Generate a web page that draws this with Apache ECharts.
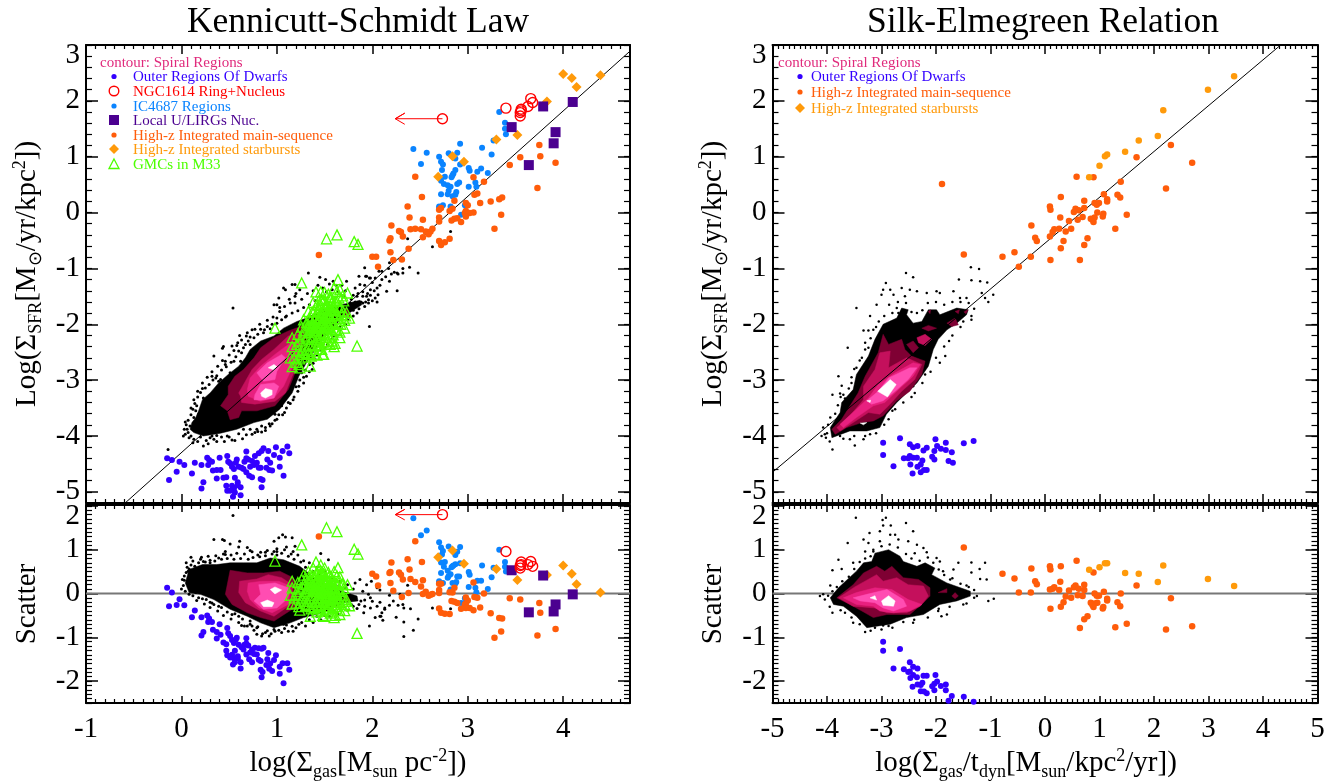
<!DOCTYPE html>
<html>
<head>
<meta charset="utf-8">
<title>Kennicutt-Schmidt Law and Silk-Elmegreen Relation</title>
<script src="https://cdn.jsdelivr.net/npm/echarts@6/dist/echarts.min.js"></script>
<style>
  html, body { margin: 0; padding: 0; background: #fff; }
  #chart { width: 1343px; height: 782px; }
</style>
</head>
<body>
<div id="chart"></div>
<script>
// ---- left panels: log(gas) against log(SFR), plus the scatter about the fit ----
const fitKsX = [-0.59, 4.7]
const fitKsY = [-5.2, 2.89]
const fitSeX = [-5, 4.3]
const fitSeY = [-4.65, 2.98]
const zeroKsX = [-1, 4.7]
const zeroSeX = [-5, 5]
const zeroY = [0, 0]
const yTicksTop = [-5, -4, -3, -2, -1, 0, 1, 2, 3]
const yTicksLow = [-2, -1, 0, 1, 2]

const dwarfX = [-.15,-.10,-.02,.03,-.05,-.13,.11,.14,.21,.23,
  .21,.27,.29,.32,.28,.33,.37,.41,.40,.37,
  .44,.47,.48,.49,.51,.53,.58,.57,.55,.60,
  .63,.68,.68,.70,.74,.77,.81,.84,.86,.91,
  .99,1.06,1.11,1.13,.97,1.03,.90,.93,.79,.76,
  .81,.89,.92,.95,1.03,1.07,.68,.71,.74,.83,
  .85,.84,.56,.47,.48,.53,.55,.59,.62,.56,
  .62,.54,.51,.59,.83,.65,.66,.72]
const dwarfY = [-4.40,-4.43,-4.46,-4.52,-4.64,-4.79,-4.67,-4.48,-4.52,-4.83,
  -4.94,-4.39,-4.43,-4.46,-4.52,-4.62,-4.61,-4.61,-4.39,-4.76,
  -4.75,-4.74,-4.36,-4.46,-4.49,-4.55,-4.42,-4.48,-4.59,-4.55,
  -4.57,-4.28,-4.40,-4.42,-4.45,-4.36,-4.31,-4.27,-4.22,-4.27,
  -4.20,-4.27,-4.19,-4.31,-4.34,-4.39,-4.42,-4.48,-4.48,-4.52,
  -4.57,-4.57,-4.61,-4.62,-4.55,-4.71,-4.65,-4.71,-4.74,-4.77,
  -4.79,-4.92,-4.75,-4.89,-4.98,-4.89,-4.94,-4.88,-4.92,-5.01,
  -5.06,-5.09,-4.98,-4.83,-4.57,-4.59,-4.46,-4.55]
const dwarfScatter = [.13,.02,-.13,-.27,-.26,-.29,-.54,-.39,-.54,-.88,
  -.96,-.50,-.57,-.65,-.65,-.83,-.88,-.94,-.70,-1.03,
  -1.12,-1.16,-.79,-.91,-.97,-1.06,-1.01,-1.05,-1.13,-1.17,
  -1.23,-1.02,-1.14,-1.19,-1.28,-1.24,-1.25,-1.26,-1.24,-1.36,
  -1.41,-1.59,-1.59,-1.74,-1.52,-1.67,-1.50,-1.60,-1.39,-1.38,
  -1.51,-1.63,-1.72,-1.77,-1.83,-2.05,-1.39,-1.50,-1.57,-1.74,
  -1.79,-1.91,-1.31,-1.31,-1.41,-1.40,-1.48,-1.48,-1.57,-1.57,
  -1.71,-1.62,-1.46,-1.43,-1.54,-1.28,-1.17,-1.35]

const ngcX = [3.40,3.56,3.56,3.55,3.63,3.66,3.68,3.55]
const ngcY = [1.87,1.85,1.82,1.73,1.90,2.04,1.97,1.79]
const ngcScatter = [.96,.72,.66,.58,.66,.73,.62,.64]
const ngcLimitX = [2.735]
const ngcLimitY = [1.68]
const ngcLimitScatter = [1.80]
const arrowTopPath = [[2.735,1.68],[2.24,1.68],[2.34,1.78],[2.24,1.68],[2.34,1.58]]
const arrowLowPath = [[2.735,1.80],[2.24,1.80],[2.34,1.92],[2.24,1.80],[2.34,1.68]]

const icX = [3.33,3.39,3.39,3.40,3.27,2.92,2.43,2.57,3.15,3.25,
  2.80,2.89,2.70,2.87,2.72,2.74,2.51,2.92,3.01,3.02,
  3.14,3.10,3.21,2.87,2.85,2.84,2.73,2.76,2.83,3.08,
  3.09,3.01,2.72,2.75,2.79,2.82,2.89,2.91,2.72,2.80,
  2.88,2.79,2.84,2.87,2.70,2.74,2.82,2.97,2.93,2.70]
const icY = [1.80,1.61,1.50,1.40,1.29,1.23,1.14,1.07,1.16,1.04,
  1.06,1.07,1.00,.97,.91,.86,.87,.86,.80,.75,
  .79,.73,.71,.76,.70,.67,.76,.64,.63,.54,
  .46,.46,.57,.51,.49,.46,.51,.54,.33,.39,
  .37,.33,.29,.32,.11,.13,.11,.13,-.04,.08]
const icScatter = [1.0,.72,.61,.50,.59,1.06,1.72,1.44,.64,.37,
  1.07,.95,1.17,.88,1.05,.97,1.33,.69,.49,.43,
  .29,.29,.10,.67,.64,.62,.89,.72,.60,.13,
  .03,.15,.71,.61,.52,.44,.39,.39,.47,.40,
  .26,.36,.24,.23,.28,.24,.09,-.11,-.22,.25]

const lirgX = [3.46,3.79,4.10,3.92,3.90,3.64]
const lirgY = [1.53,1.90,1.98,1.44,1.24,.85]
const lirgScatter = [.53,.41,-.02,-.25,-.41,-.43]

const msX = [3.75,3.76,3.55,3.44,3.92,3.73,2.45,3.06,3.17,2.52,
  3.07,3.10,3.36,3.33,3.24,3.13,2.86,2.37,2.98,3.00,
  2.72,2.70,2.84,2.81,2.98,2.97,3.06,3.35,3.02,2.39,
  2.70,2.98,2.53,2.89,2.86,2.83,2.70,2.93,2.20,3.28,
  2.40,2.45,2.51,2.63,2.56,2.61,2.28,2.30,2.32,2.59,
  2.53,2.19,2.18,2.70,2.81,2.76,2.72,2.38,2.19,2.00,
  2.04,2.31,2.22,2.06,1.44]
const msY = [1.21,1.01,.99,.85,.89,.44,.64,.63,.55,.28,
  .32,.34,.27,.24,.20,.17,.21,.11,.17,.13,
  .08,.05,.07,.03,.03,-.01,0,-.04,-.01,-.09,
  -.09,-.07,-.13,-.10,-.11,-.14,-.16,-.17,-.23,-.29,
  -.30,-.29,-.30,-.29,-.34,-.34,-.33,-.35,-.43,-.39,
  -.44,-.46,-.50,-.51,-.47,-.53,-.58,-.65,-.71,-.79,
  -.79,-.84,-.85,-.97,-.76]
const msScatter = [-.22,-.44,-.14,-.11,-.81,-.96,1.19,.25,0,.72,
  -.08,-.10,-.57,-.56,-.45,-.32,.13,.78,-.09,-.16,
  .22,.22,.02,.03,-.23,-.25,-.38,-.87,-.33,.55,
  .08,-.33,.30,-.22,-.19,-.17,.01,-.35,.71,-1.01,
  .33,.26,.16,-.01,.04,-.03,.48,.43,.32,-.05,
  -.01,.49,.47,-.34,-.47,-.46,-.44,.01,.24,.45,
  .39,-.08,.06,.18,1.30]

const burstX = [4.00,4.09,4.14,4.39,3.83,3.30,3.52,2.84,2.96,2.69]
const burstY = [2.48,2.41,2.25,2.46,1.99,1.31,1.39,1.01,.91,.64]
const burstScatter = [.64,.45,.21,.02,.42,.56,.31,.98,.68,.83]

const gmcX = [1.52,1.63,1.81,1.85,1.26,1.64,.98,1.84,1.16,1.16,
  1.73,1.71,1.66,1.60,1.49,1.35,1.24,1.14,1.16,1.18,
  1.20,1.22,1.24,1.25,1.26,1.28,1.28,1.30,1.30,1.32,
  1.33,1.34,1.35,1.36,1.37,1.38,1.38,1.39,1.40,1.40,
  1.41,1.42,1.42,1.43,1.44,1.44,1.45,1.46,1.46,1.47,
  1.48,1.48,1.49,1.50,1.50,1.51,1.52,1.52,1.53,1.54,
  1.54,1.55,1.56,1.56,1.57,1.58,1.58,1.59,1.60,1.60,
  1.61,1.62,1.63,1.64,1.65,1.66,1.66,1.68,1.70,1.72,
  1.74,1.76,1.33,1.35,1.37,1.39,1.41,1.43,1.45,1.47,
  1.49,1.51,1.53,1.55,1.57,1.59,1.61,1.63,1.46,1.48,
  1.50,1.52,1.54,1.42,1.44,1.56,1.58,1.36,1.34,1.32,
  1.38,1.40,1.44,1.50,1.52,
  1.21,1.23,1.27,1.29,1.31,1.33,1.35,1.37,1.39,1.41,
  1.43,1.45,1.45,1.47,1.47,1.49,1.49,1.51,1.51,1.53,
  1.53,1.55,1.55,1.57,1.57,1.59,1.59,1.61,1.61,1.63,
  1.63,1.65,1.65,1.67,1.67,1.69,1.69,1.71,1.42,1.44,
  1.46,1.48,1.50,1.52,1.54,1.56,1.58,1.60,1.38,1.40,
  1.42,1.44,1.46,1.34,1.36,1.30,1.28,1.26,1.24,1.22]
const gmcY = [-.47,-.40,-.52,-.57,-1.26,-1.20,-2.07,-2.39,-2.76,-2.24,
  -1.79,-2.07,-2.24,-2.40,-2.54,-2.75,-2.78,-2.60,-2.40,-2.60,
  -2.68,-2.18,-2.30,-2.54,-2.05,-2.39,-1.92,-2.11,-2.59,-2.23,
  -1.77,-2.37,-1.94,-2.57,-2.05,-1.61,-2.24,-1.77,-2.36,-1.91,
  -1.42,-2.08,-2.55,-1.76,-2.20,-1.58,-1.90,-2.37,-1.42,-2.03,
  -1.62,-2.54,-1.74,-2.16,-1.43,-1.89,-2.35,-1.62,-2.01,-1.46,
  -2.19,-1.73,-2.36,-1.86,-1.52,-2.00,-1.60,-2.19,-1.73,-1.35,
  -2.34,-1.84,-1.59,-1.99,-1.70,-1.38,-2.14,-1.83,-1.58,-1.85,
  -1.44,-1.89,-2.52,-2.14,-2.38,-2.12,-1.84,-2.39,-1.66,-2.45,
  -1.90,-2.24,-1.66,-2.01,-1.75,-1.85,-1.59,-2.11,-1.97,-1.84,
  -2.01,-1.85,-2.06,-1.98,-1.88,-1.66,-2.30,-2.27,-2.03,-2.46,
  -1.99,-2.11,-2.30,-1.71,-2.07,
  -2.36,-2.72,-2.21,-2.51,-1.97,-2.15,-2.54,-1.78,-2.49,-2.02,
  -2.06,-2.28,-2.06,-1.80,-1.55,-2.32,-1.57,-1.69,-2.04,-1.81,
  -2.31,-1.53,-2.23,-1.90,-2.10,-1.67,-1.97,-1.74,-2.09,-1.81,
  -1.41,-1.90,-1.53,-1.70,-2.00,-1.49,-1.76,-1.93,-1.65,-1.72,
  -1.79,-1.98,-1.89,-1.97,-1.84,-2.06,-1.76,-2.00,-2.11,-2.04,
  -2.28,-2.45,-2.17,-1.89,-2.02,-2.26,-2.12,-2.47,-2.62,-2.48]
const gmcScatter = [1.50,1.41,1.01,.90,1.11,.59,.74,-.91,-.24,.28,
  -.14,-.39,-.48,-.55,-.52,-.52,-.38,-.04,.13,-.10,
  -.22,.25,.10,-.15,.32,-.05,.42,.20,-.28,.05,
  .50,-.12,.30,-.35,.15,.58,-.05,.40,-.20,.25,
  .72,.05,-.42,.35,-.10,.52,.18,-.30,.65,.02,
  .42,-.50,.28,-.15,.58,.10,-.38,.35,-.05,.48,
  -.25,.20,-.45,.05,.38,-.12,.28,-.32,.12,.50,
  -.50,-.02,.22,-.20,.08,.38,-.38,-.10,.12,-.18,
  .20,-.28,-.25,.10,-.18,.05,.30,-.28,.42,-.40,
  .12,-.25,.30,-.08,.15,.02,.25,-.30,.10,.20,
  0,.12,-.12,.15,.22,.25,-.42,-.05,.22,-.18,
  .20,.05,-.20,.30,-.10,
  .05,-.30,.15,-.18,.33,.12,-.30,.42,-.32,.12,
  .05,-.20,.02,.25,.50,-.30,.45,.30,-.05,.15,
  -.35,.40,-.30,0,-.20,.20,-.10,.10,-.25,0,
  .40,-.12,.25,.05,-.25,.22,-.05,-.25,.48,.38,
  .28,.06,.12,0,.10,-.15,.12,-.15,.08,.12,
  -.15,-.35,-.10,.36,.20,.05,.22,-.10,-.22,-.05]

// black points outside the contours, left column
const ksDots = [[.54,-1.71],[1.33,-1.08],[1.45,-1.16],[1.51,-1.20],[1.59,-1.23],[1.73,-1.23],[1.86,-1.14],[1.94,-1.14],[1.98,-1.17],[2.03,-1.17],
  [2.10,-1.05],[2.18,-.90],[2.26,-1.08],[2.18,-1.23],[2.26,-1.40],[2.05,-1.35],[2.06,-1.47],[2.15,-1.41],[1.98,-1.38],[1.87,-1.29],
  [1.82,-1.35],[1.84,-1.50],[1.96,-1.56],[2.03,-1.53],[1.77,-1.62],[1.97,-2.04],[1.19,-1.29],[1.16,-1.29],[1.07,-1.35],[1.09,-1.38],
  [1.24,-1.38],[1.19,-1.50],[1.14,-1.62],[1.19,-1.62],[1.02,-1.53],[.97,-1.65],[1.00,-1.65],[1.03,-1.77],[1.09,-1.87],[1.00,-1.89],
  [.77,-2.09],[.83,-2.09],[.90,-2.04],[.95,-2.00],[.86,-2.15],[.61,-2.20],[.68,-2.21],[.72,-2.23],[.53,-2.39],[.44,-2.40],
  [.43,-2.43],[.59,-2.33],[.63,-2.51],[.67,-2.36],[.72,-2.36],[.34,-2.57],[.46,-2.66],[.46,-2.72],[.55,-2.66],[.62,-2.66],
  [.32,-2.93],[.36,-2.96],[.39,-3.02],[.41,-2.99],[.51,-2.87],[.22,-3.15],[.23,-3.32],[.16,-3.46],[.15,-3.55],[.18,-3.61],
  [.13,-3.67],[.09,-3.82],[.06,-3.88],[.04,-3.97],[.08,-4.03],[.13,-4.06],[.23,-4.18],[.30,-4.03],[.32,-4.00],[.53,-4.07],
  [.64,-4.05],[.74,-3.97],[.77,-3.94],[.79,-3.88],[.84,-3.93],[.88,-3.85],[.93,-3.82],[1.00,-3.70],[1.05,-3.46],[1.17,-3.35],
  [1.12,-3.40],[1.28,-3.05],[1.31,-2.93],[1.26,-2.87],[1.37,-2.81],[-.14,-4.24],[.65,-3.88],[.48,-4.00],[.37,-3.99],[.98,-3.61],
  [1.09,-3.29],[1.23,-3.11],[1.35,-2.60],[2.82,-.34],[2.37,-.47],[2.63,-.61],[2.29,-.83],[1.92,-.99],[2.39,-.98],[2.32,-1.0],
  [2.17,-1.0],[2.07,-1.05],[2.23,-1.07],[2.27,-1.1],[2.32,-1.08],[2.48,-1.08],[1.93,-1.14],[1.97,-1.17],[1.78,-1.55],[1.85,-1.45],
  [1.90,-1.42],[1.92,-1.30],[1.80,-1.48],[1.88,-1.60],[2.00,-1.25],[1.72,-1.40],[1.76,-1.72],[1.95,-1.45],
  [.05,-3.8],[.07,-3.72],[.1,-3.62],[.12,-3.52],[.14,-3.42],[.17,-3.3],[.2,-3.22],[.25,-3.14],[.29,-3.08],[.33,-3.0],
  [.37,-2.92],[.42,-2.82],[.47,-2.76],[.52,-2.68],[.57,-2.58],[.6,-2.48],[.65,-2.42],[.7,-2.3],[.76,-2.24],[.8,-2.18],
  [.87,-2.1],[.93,-2.08],[1.0,-1.98],[1.05,-1.92],[1.1,-1.85],[1.16,-1.8],[1.22,-1.76],[1.28,-1.7],[1.34,-1.65],[1.4,-1.58],
  [1.46,-1.5],[1.52,-1.42],[1.58,-1.38],[1.64,-1.42],[1.7,-1.5],[1.86,-1.72],[1.8,-1.85],[1.72,-2.0],[1.66,-2.1],[1.58,-2.25],
  [1.5,-2.42],[1.42,-2.55],[1.38,-2.7],[1.34,-2.85],[1.28,-2.95],[1.22,-3.2],[1.18,-3.3],[1.1,-3.5],[1.06,-3.62],[.98,-3.72],
  [.92,-3.78],[.84,-3.82],[.72,-3.88],[.6,-3.96],[.5,-4.02],[.42,-4.02],[.34,-4.06],[.26,-4.08],[.17,-4.1],[.1,-4.0],
  [.07,-3.94],[.03,-3.88],[1.9,-1.5],[1.94,-1.5],[1.98,-1.48],[2.02,-1.4],[2.08,-1.3],[2.1,-1.2],[2.14,-1.15],[2.2,-1.1],
  [1.82,-1.6],[1.9,-1.62],[1.92,-1.68],[1.96,-1.62],[2.0,-1.58],[2.05,-1.6],
  [.1,-3.5],[.13,-3.35],[.17,-3.2],[.22,-3.05],[.27,-2.95],[.32,-2.85],[.38,-2.75],[.43,-2.65],[.5,-2.55],[.55,-2.47],
  [.58,-2.38],[.63,-2.28],[.69,-2.15],[.74,-2.1],[.82,-2.0],[.9,-1.93],[.96,-1.87],[1.03,-1.7],[1.08,-1.68],[1.13,-1.55],
  [1.2,-1.45],[1.26,-1.55],[1.32,-1.45],[1.38,-1.4],[1.43,-1.3],[1.48,-1.35],[1.55,-1.28],[1.62,-1.3],[1.68,-1.3],
  [.04,-3.75],[.02,-4.0],[.12,-4.12],[.2,-4.02],[.28,-4.14],[.37,-4.1],[.45,-4.1],[.56,-4.08],[.68,-3.98],[.8,-3.92],
  [.88,-3.9],[.95,-3.78],[1.02,-3.62],[1.08,-3.58],[1.14,-3.42],[1.2,-3.12],[1.24,-3.0],[1.3,-2.82],[1.34,-2.72],[1.4,-2.62],
  [1.46,-2.46],[1.53,-2.36],[1.6,-2.2],[1.66,-2.05],[1.74,-1.92],[1.8,-1.75],[1.84,-1.8],[1.93,-1.6]]
const ksScatterDots = [[.54,1.78],[.34,1.23],[.43,1.23],[.45,1.21],[.61,1.19],[.51,1.13],[.60,1.06],[.69,1.05],[.72,.98],[.83,.94],
  [.88,.94],[.97,1.19],[1.02,1.27],[1.06,1.34],[1.09,1.29],[1.16,1.27],[1.19,1.08],[.97,.96],[1.0,.96],[1.10,1.06],
  [1.17,.96],[1.46,.91],[1.54,.77],[.10,.83],[.21,.83],[.23,.73],[.30,.76],[.46,.96],[.46,.89],[.39,.81],
  [.08,.56],[.07,.51],[.03,.30],[.09,.17],[.10,.05],[.15,.02],[.22,-.12],[.30,-.20],[.34,-.25],[.39,-.29],
  [.53,-.48],[.60,-.52],[.63,-.73],[.69,-.74],[.74,-.74],[.79,-.93],[.84,-.97],[.88,-.89],[.92,-.97],[.97,-.82],
  [1.05,-.89],[1.12,-.86],[1.17,-.86],[1.23,-.70],[1.07,-.70],[.79,-.78],[.72,-.63],[1.82,.24],[1.87,.32],[1.94,.20],
  [1.99,.28],[2.05,.13],[1.92,-.29],[1.98,-.33],[2.05,-.29],[2.10,-.44],[2.03,-.55],[1.97,-.74],[1.91,-.44],[1.88,-.17],
  [2.08,-.52],[2.13,-.36],[1.77,-.06],[1.80,-.29],[2.08,.08],[2.37,.19],[2.29,-.02],[2.18,-.04],[2.08,-.20],[2.22,-.17],
  [2.18,-.27],[2.13,-.33],[2.27,-.27],[2.32,-.25],[2.33,-.33],[2.40,-.35],[2.63,-.33],[2.82,-.35],[2.09,-.52],[2.11,-.61],
  [2.25,-.54],[2.48,-.58],[2.33,-.65],[2.43,-.84],[2.33,-.98],
  [.06,.6],[.1,.65],[.14,.62],[.18,.7],[.25,.72],[.3,.7],[.35,.74],[.42,.78],[.48,.8],[.55,.78],
  [.62,.8],[.7,.78],[.75,.82],[.82,.84],[.88,.86],[.95,.9],[1.0,.88],[1.05,.92],[1.12,.85],[1.18,.78],
  [1.25,.72],[1.3,.6],[1.38,.5],[1.45,.45],[1.5,.3],[1.58,.22],[1.65,.18],[1.72,.12],[1.8,.1],[1.9,.05],
  [1.96,-.02],[.0,.1],[.02,.18],[.03,.4],[.05,.48],[.01,.32],[.04,.05],[.12,-.05],[.18,-.1],[.26,-.14],
  [.32,-.22],[.42,-.32],[.48,-.42],[.56,-.46],[.64,-.58],[.72,-.7],[.8,-.76],[.9,-.85],[.98,-.86],[1.08,-.8],
  [1.16,-.75],[1.26,-.66],[1.34,-.6],[1.42,-.52],[1.5,-.5],[1.6,-.4],[1.7,-.3],[1.78,-.25],[1.86,-.25],[1.92,-.15],
  [1.98,-.1],[2.0,-.18],
  [.05,.7],[.12,.74],[.2,.78],[.28,.85],[.36,.86],[.44,.9],[.52,.88],[.58,.92],[.66,.9],[.74,.95],
  [.8,.88],[.9,.98],[1.0,1.02],[1.08,1.0],[1.15,.9],[1.22,.88],[1.28,.75],[1.34,.7],[1.42,.6],[1.5,.5],
  [1.58,.35],[1.66,.28],[1.74,.2],[.08,-.02],[.16,-.16],[.24,-.24],[.3,-.32],[.38,-.4],[.44,-.5],[.52,-.58],
  [.6,-.66],[.66,-.74],[.76,-.84],[.85,-.92],[.94,-.92],[1.02,-.84],[1.1,-.72],[1.2,-.78],[1.3,-.74],[1.38,-.66],
  [1.46,-.6],[1.55,-.52],[1.64,-.46],[1.74,-.38],[1.84,-.34]]

// contour levels, left column
const ksBlack = [[.11,-3.76],[.15,-3.67],[.18,-3.55],[.22,-3.35],[.30,-3.23],[.39,-3.05],[.49,-2.90],[.60,-2.75],[.67,-2.60],[.72,-2.45],[.83,-2.30],[.97,-2.21],[1.07,-2.07],[1.21,-1.95],[1.31,-1.89],[1.52,-1.71],[1.68,-1.65],[1.87,-1.57],[1.89,-1.65],[1.73,-1.83],[1.63,-1.98],[1.45,-2.33],[1.31,-2.69],[1.23,-2.93],[1.16,-3.23],[1.03,-3.52],[.90,-3.70],[.76,-3.76],[.58,-3.88],[.41,-3.95],[.23,-4.00],[.13,-3.94],[.09,-3.88]]
const ksMaroon = [[.41,-3.46],[.49,-3.26],[.49,-3.11],[.56,-2.93],[.65,-2.81],[.76,-2.60],[.83,-2.42],[.97,-2.24],[1.12,-2.12],[1.31,-2.00],[1.38,-2.09],[1.24,-2.39],[1.23,-2.69],[1.17,-2.96],[1.12,-3.17],[.98,-3.46],[.79,-3.55],[.63,-3.55],[.60,-3.67],[.51,-3.71],[.48,-3.55]]
const ksMaroonTail = [[1.68,-1.86],[1.73,-1.71],[1.78,-1.86]]
const ksCrimson = [[.60,-3.23],[.67,-3.02],[.74,-2.81],[.84,-2.63],[.97,-2.45],[1.12,-2.21],[1.26,-2.15],[1.28,-2.33],[1.24,-2.63],[1.16,-2.93],[1.09,-3.23],[.98,-3.38],[.77,-3.43],[.63,-3.40],[.62,-3.29]]
const ksMagenta = [[.69,-3.17],[.72,-2.96],[.83,-2.75],[.98,-2.54],[1.12,-2.36],[1.24,-2.30],[1.23,-2.57],[1.16,-2.78],[1.07,-3.11],[.97,-3.32],[.83,-3.38],[.70,-3.29]]
const ksPinkA = [[.79,-2.87],[.90,-2.69],[1.05,-2.54],[1.09,-2.60],[1.00,-2.84],[.98,-2.99],[.86,-3.02],[.83,-2.96]]
const ksPinkB = [[.77,-3.26],[.83,-3.08],[.97,-3.05],[1.02,-3.11],[.97,-3.32],[.83,-3.36],[.76,-3.35]]
const ksWhiteA = [[.91,-2.78],[.97,-2.72],[1.00,-2.76],[.97,-2.82]]
const ksWhiteB = [[.83,-3.23],[.88,-3.15],[.95,-3.18],[.95,-3.26],[.88,-3.32],[.84,-3.29]]

const ksLowBlack = [[.04,.24],[.08,.55],[.22,.66],[.37,.66],[.51,.70],[.65,.70],[.79,.70],[.93,.81],[1.07,.77],[1.24,.62],[1.42,.32],[1.63,.09],[1.84,-.06],[1.85,-.17],[1.70,-.21],[1.49,-.44],[1.28,-.55],[1.14,-.67],[.97,-.78],[.83,-.67],[.69,-.52],[.51,-.36],[.34,-.14],[.20,-.02],[.08,.02]]
const ksLowMaroon = [[.46,-.02],[.51,.53],[.69,.47],[.86,.47],[1.03,.51],[1.17,.36],[1.24,.13],[1.21,-.29],[.97,-.63],[.83,-.55],[.69,-.44],[.53,-.25]]
const ksLowMaroonTail = [[1.68,-.17],[1.73,-.02],[1.77,-.17]]
const ksLowCrimson = [[.61,.28],[.79,.33],[.91,.43],[1.05,.36],[1.16,.20],[1.17,-.21],[.97,-.52],[.83,-.40],[.67,-.21],[.60,.02]]
const ksLowMagenta = [[.70,.24],[.84,.28],[1.02,.28],[1.14,.17],[1.12,-.25],[.95,-.44],[.81,-.33],[.72,-.14],[.69,.05]]
const ksLowPink = [[.81,.20],[.98,.24],[1.12,.13],[1.10,-.14],[1.00,-.33],[.86,-.36],[.76,-.17],[.83,-.02]]
const ksLowWhiteA = [[.93,.09],[.98,.15],[1.05,.08],[.98,-.01]]
const ksLowWhiteB = [[.83,-.21],[.90,-.15],[.97,-.21],[.95,-.30],[.86,-.30]]

// ---- right panels ----
const seDwarfX = [-2.97,-2.66,-2.97,-2.48,-2.42,-2.34,-2.17,-2.23,-2.01,-1.98,
  -1.91,-1.82,-1.82,-1.71,-2.03,-1.49,-1.31,-2.78,-2.59,-2.51,
  -2.48,-2.42,-2.35,-2.47,-2.25,-2.28,-2.34,-2.07,-2.03,-1.77,
  -1.69,-2.43,-2.28,-2.22,-2.17]
const seDwarfY = [-4.12,-4.04,-4.34,-4.15,-4.20,-4.18,-4.21,-4.26,-4.06,-4.18,
  -4.23,-4.12,-4.25,-4.29,-4.27,-4.13,-4.09,-4.54,-4.40,-4.40,
  -4.36,-4.39,-4.39,-4.51,-4.44,-4.51,-4.55,-4.37,-4.42,-4.45,
  -4.48,-4.67,-4.65,-4.61,-4.61]
const seDwarfScatter = [-1.10,-1.27,-1.31,-1.57,-1.67,-1.71,-1.88,-1.88,-1.86,-2.01,
  -2.11,-2.08,-2.21,-2.34,-2.06,-2.36,-2.47,-1.71,-1.73,-1.79,
  -1.78,-1.86,-1.91,-1.93,-2.04,-2.09,-2.08,-2.12,-2.21,-2.45,
  -2.54,-2.13,-2.23,-2.24,-2.28]

const seMsX = [2.31,1.68,2.70,2.22,1.39,.89,.58,.29,1.08,1.33,
  1.38,.72,1.14,1.14,.91,.99,.95,.09,.10,.72,
  .56,.53,.62,.96,1.50,1.07,1.06,.28,.69,.60,
  .84,.91,.87,.89,.44,-.25,1.29,.17,.14,.26,
  .48,.38,.09,-.18,-.15,.78,.34,.72,.29,-.56,
  -.78,-.26,.10,.64,-.48,-1.49,-1.89]
const seMsY = [1.21,.99,.89,.43,.55,.63,.64,.28,.33,.32,
  .27,.21,.24,.20,.17,.17,.14,.11,.05,.08,
  .07,.01,.04,0,-.04,-.02,-.07,-.09,-.08,-.13,
  -.11,-.09,-.13,-.17,-.15,-.23,-.29,-.30,-.35,-.29,
  -.29,-.34,-.43,-.45,-.51,-.46,-.51,-.58,-.64,-.71,
  -.79,-.79,-.85,-.85,-.97,-.75,.51]
const seMsScatter = [-.11,.18,-.75,-.82,0,.48,.75,.62,.04,-.2,
  -.29,.2,-.12,-.16,0,-.05,-.05,.62,.55,.08,
  .18,.14,.11,-.21,-.69,-.31,-.34,.27,-.06,-.04,
  -.21,-.23,-.26,-.31,.07,.57,-.77,.14,.11,.08,
  -.10,-.07,.09,.28,.21,-.52,-.20,-.59,-.30,.34,
  .45,.02,-.35,-.79,.02,1.05,2.6]

const seBurstX = [3.47,2.99,2.17,2.07,1.72,1.47,1.14,1.10,1.00,.81]
const seBurstY = [2.44,2.20,1.83,1.37,1.29,1.09,1.04,1.01,.84,.63]
const seBurstScatter = [.17,.33,.64,.26,.45,.47,.69,.69,.60,.54]

const seDots = [[-2.55,-1.08],[-2.42,-1.16],[-1.36,-.98],[-1.21,-1.01],[-1.58,-1.20],[-1.35,-1.21],[-1.19,-1.23],[-1.06,-1.25],[-2.92,-1.26],[-2.63,-1.35],
  [-2.97,-1.38],[-3.00,-1.47],[-2.84,-1.38],[-2.48,-1.38],[-2.78,-1.47],[-2.57,-1.50],[-2.35,-1.41],[-2.17,-1.44],[-1.99,-1.41],[-1.93,-1.44],
  [-1.68,-1.41],[-1.56,-1.53],[-1.44,-1.53],[-1.16,-1.44],[-.95,-1.47],[-1.10,-1.53],[-1.04,-1.60],[-3.09,-1.65],[-2.86,-1.65],[-3.46,-1.71],
  [-2.72,-1.71],[-3.21,-1.85],[-2.69,-1.80],[-3.10,-2.05],[-3.33,-2.11],[-3.24,-2.11],[-3.62,-2.42],[-3.30,-2.33],[-3.24,-2.42],[-3.36,-2.60],
  [-3.46,-2.78],[-3.79,-2.93],[-3.55,-3.05],[-3.73,-3.10],[-3.90,-3.26],[-3.76,-3.24],[-3.70,-3.26],[-3.67,-3.33],[-3.94,-3.67],[-4.07,-3.85],
  [-4.04,-3.97],[-4.10,-4.00],[-4.02,-4.03],[-3.76,-4.00],[-3.58,-4.06],[-3.49,-4.17],[-3.90,-4.24],[-3.33,-4.06],[-3.21,-3.97],[-2.87,-3.70],
  [-2.75,-3.52],[-2.39,-3.23],[-2.42,-3.11],[-2.20,-2.90],[-1.93,-2.69],[-1.83,-2.57],[-1.76,-2.30],[-1.50,-1.95],[-1.35,-1.92],
  [-3.98,-3.8],[-3.85,-3.6],[-3.8,-3.45],[-3.75,-3.3],[-3.6,-3.15],[-3.55,-2.95],[-3.5,-2.8],[-3.4,-2.65],[-3.3,-2.45],[-3.2,-2.25],
  [-3.15,-2.1],[-3.05,-1.95],[-2.95,-1.85],[-2.8,-1.8],[-2.7,-1.6],[-2.55,-1.62],[-2.45,-1.78],[-2.35,-1.8],[-2.25,-1.75],[-2.15,-1.62],
  [-2.0,-1.6],[-1.85,-1.65],[-1.7,-1.6],[-1.55,-1.6],[-1.4,-1.62],[-1.3,-1.72],[-1.35,-1.85],[-1.55,-2.05],[-1.7,-2.2],[-1.85,-2.4],
  [-2.0,-2.6],[-2.1,-2.85],[-2.25,-3.05],[-2.45,-3.3],[-2.6,-3.4],[-2.8,-3.55],[-2.95,-3.8],[-3.1,-3.95],[-3.3,-4.0],[-3.5,-4.0],
  [-3.7,-4.05],[-3.95,-4.1],[-4.0,-3.95]]
const seScatterDots = [[-3.47,1.73],[-2.92,1.73],[-2.98,1.68],[-2.55,1.61],[-2.97,1.55],[-2.83,1.55],[-3.22,1.38],[-3.03,1.42],[-2.84,1.34],[-2.75,1.34],
  [-2.42,1.42],[-3.33,1.23],[-3.62,1.15],[-3.24,1.15],[-3.03,1.19],[-2.69,1.23],[-2.51,1.19],[-2.35,1.11],[-2.23,1.04],[-2.17,.94],
  [-3.30,.96],[-3.15,.96],[-2.39,.92],[-1.99,.81],[-3.79,.77],[-3.52,.70],[-3.90,.53],[-3.73,.56],[-1.93,.73],[-1.59,.70],
  [-1.35,.71],[-1.10,.70],[-1.87,.51],[-1.68,.55],[-1.20,.56],[-1.35,.48],[-1.19,.33],[-1.07,.32],[-1.74,.32],[-1.44,.18],
  [-3.94,.18],[-4.07,-.02],[-4.13,-.06],[-4.04,-.14],[-1.25,-.06],[-1.04,-.17],[-.94,-.12],[-1.44,-.23],[-1.96,-.40],[-1.80,-.48],
  [-1.90,-.52],[-2.42,-.67],[-3.30,-.88],[-3.52,-.67],[-3.90,-.44],[-3.67,-.44],[-2.87,-.74],[-2.97,-.73],[-3.12,-.78],
  [-3.98,-.05],[-3.9,.05],[-3.82,.15],[-3.72,.28],[-3.6,.38],[-3.5,.56],[-3.4,.72],[-3.3,.8],[-3.2,.85],[-3.15,1.0],
  [-3.0,1.08],[-2.85,1.12],[-2.7,1.05],[-2.55,.9],[-2.45,.8],[-2.3,.75],[-2.15,.82],[-2.05,.7],[-1.95,.55],[-1.85,.42],
  [-1.7,.35],[-1.55,.22],[-1.4,.15],[-1.3,.08],[-1.3,-.1],[-1.5,-.25],[-1.75,-.3],[-1.95,-.35],[-2.15,-.55],[-2.4,-.6],
  [-2.6,-.65],[-2.8,-.78],[-3.0,-.82],[-3.2,-.85],[-3.4,-.7],[-3.55,-.55],[-3.75,-.38],[-3.95,-.3]]

const seBlack = [[-3.94,-3.85],[-3.76,-3.58],[-3.73,-3.40],[-3.52,-3.17],[-3.46,-2.90],[-3.24,-2.57],[-3.12,-2.27],[-2.97,-2.00],[-2.72,-1.89],[-2.63,-1.71],[-2.51,-1.74],[-2.54,-1.83],[-2.42,-1.98],[-2.26,-1.95],[-2.14,-1.74],[-1.99,-1.74],[-1.93,-1.83],[-1.62,-1.71],[-1.41,-1.74],[-1.44,-1.83],[-1.62,-1.98],[-1.80,-2.10],[-1.96,-2.27],[-2.05,-2.45],[-2.14,-2.75],[-2.35,-3.05],[-2.54,-3.23],[-2.72,-3.40],[-2.91,-3.61],[-3.03,-3.85],[-3.27,-3.91],[-3.58,-3.91],[-3.91,-4.03]]
const seMaroon = [[-3.91,-3.88],[-3.73,-3.70],[-3.43,-3.23],[-3.30,-2.93],[-3.06,-2.51],[-2.97,-2.18],[-2.87,-2.36],[-2.63,-2.27],[-2.57,-2.45],[-2.45,-2.57],[-2.20,-2.66],[-2.26,-2.90],[-2.48,-3.20],[-2.72,-3.37],[-2.97,-3.64],[-3.15,-3.73],[-3.36,-3.76],[-3.64,-3.85],[-3.85,-3.97]]
const seIslandA = [[-2.26,-2.07],[-2.14,-2.02],[-1.99,-2.07],[-2.14,-2.12]]
const seIslandB = [[-2.35,-2.24],[-2.20,-2.18],[-2.08,-2.27],[-2.20,-2.38],[-2.32,-2.33]]
const seIslandC = [[-2.54,-2.36],[-2.42,-2.30],[-2.32,-2.42],[-2.42,-2.51]]
const seIslandD = [[-1.80,-1.98],[-1.65,-1.89],[-1.59,-2.01],[-1.71,-2.04]]
const seIslandE = [[-2.14,-1.77],[-2.10,-1.74],[-2.11,-1.81]]
const seIslandF = [[-1.65,-1.77],[-1.57,-1.74],[-1.59,-1.81]]
const seIslandG = [[-1.50,-1.77],[-1.41,-1.74],[-1.45,-1.81]]
const seCrimson = [[-3.82,-3.85],[-3.58,-3.64],[-3.33,-3.35],[-3.33,-3.11],[-3.12,-2.81],[-3.03,-2.51],[-2.84,-2.48],[-2.87,-2.78],[-2.54,-2.60],[-2.26,-2.72],[-2.39,-2.99],[-2.63,-3.20],[-2.87,-3.46],[-3.03,-3.61],[-3.24,-3.58],[-3.52,-3.76],[-3.76,-3.91]]
const seMagenta = [[-3.76,-3.79],[-3.49,-3.55],[-3.24,-3.32],[-3.06,-3.08],[-2.75,-2.87],[-2.42,-2.69],[-2.29,-2.72],[-2.42,-2.93],[-2.69,-3.17],[-2.94,-3.40],[-3.15,-3.46],[-3.46,-3.67],[-3.70,-3.85]]
const sePink = [[-3.27,-3.37],[-3.06,-3.20],[-2.87,-2.96],[-2.48,-2.78],[-2.35,-2.78],[-2.51,-2.99],[-2.75,-3.20],[-2.97,-3.37],[-3.18,-3.43]]
const seWhiteA = [[-3.07,-3.20],[-2.84,-2.99],[-2.73,-3.08],[-2.89,-3.30]]
const seWhiteB = [[-3.27,-3.37],[-3.20,-3.36],[-3.21,-3.40]]
const seWhiteC = [[-3.39,-3.77],[-3.27,-3.76],[-3.33,-3.80]]

const seLowBlack = [[-3.94,-.10],[-3.79,.13],[-3.46,.51],[-3.33,.70],[-3.18,.73],[-3.12,.92],[-2.87,1.0],[-2.66,.85],[-2.60,.73],[-2.35,.62],[-2.20,.70],[-2.02,.58],[-2.08,.43],[-1.80,.24],[-1.37,.05],[-1.37,-.06],[-1.62,-.17],[-1.93,-.25],[-2.23,-.48],[-2.54,-.55],[-2.84,-.70],[-3.27,-.78],[-3.46,-.52],[-3.70,-.29],[-3.88,-.25]]
const seLowMaroon = [[-3.82,-.10],[-3.52,.20],[-3.33,.47],[-3.09,.62],[-2.94,.51],[-2.81,.62],[-2.60,.36],[-2.32,.32],[-2.11,.13],[-2.11,-.06],[-2.23,-.21],[-2.48,-.48],[-2.90,-.48],[-3.15,-.55],[-3.36,-.40],[-3.58,-.25]]
const seLowIslandA = [[-1.96,.02],[-1.80,.11],[-1.80,.02]]
const seLowIslandB = [[-1.71,-.06],[-1.65,.02],[-1.59,-.06],[-1.65,-.12]]
const seLowCrimson = [[-3.79,-.10],[-3.49,.15],[-3.09,.43],[-2.97,.28],[-2.72,.36],[-2.51,.20],[-2.23,.17],[-2.14,-.06],[-2.29,-.29],[-2.54,-.44],[-2.90,-.44],[-3.12,-.33],[-3.52,-.29]]
const seLowMagenta = [[-3.70,-.10],[-3.46,.02],[-3.12,.13],[-2.81,.09],[-2.51,-.14],[-2.26,-.25],[-2.48,-.40],[-2.78,-.44],[-3.03,-.40],[-3.15,-.29],[-3.46,-.25]]
const seLowPink = [[-3.52,-.10],[-3.27,-.02],[-2.90,.09],[-2.60,-.14],[-2.54,-.29],[-2.78,-.40],[-2.97,-.33],[-3.12,-.21],[-3.39,-.17]]
const seLowWhiteA = [[-3.21,-.10],[-3.12,-.05],[-3.09,-.15]]
const seLowWhiteB = [[-3.00,-.17],[-2.87,-.05],[-2.75,-.17],[-2.78,-.29],[-2.97,-.27]]

// ---- labels ----
const legendKs = ['contour: Spiral Regions', 'Outer Regions Of Dwarfs', 'NGC1614 Ring+Nucleus', 'IC4687 Regions',
  'Local U/LIRGs Nuc.', 'High-z Integrated main-sequence', 'High-z Integrated starbursts', 'GMCs in M33']
const legendSe = ['contour: Spiral Regions', 'Outer Regions Of Dwarfs', 'High-z Integrated main-sequence', 'High-z Integrated starbursts']

const FONT = '"Liberation Serif", "Times New Roman", serif'
const C = {
  contour: '#e02a7c',
  dwarf: '#3300ff',
  ngc: '#ff0000',
  ic: '#0a84ff',
  lirg: '#4b0090',
  ms: '#ff5c0a',
  burst: '#ff9a0a',
  gmc: '#4dff00',
  maroon: '#7f0033',
  crimson: '#c4105c',
  magenta: '#e8207f',
  pink: '#ff4db2',
  white: '#ffffff'
}

const GRIDS = [
  { left: 86, top: 45, width: 544, height: 458 },
  { left: 86, top: 505, width: 544, height: 199 },
  { left: 772.5, top: 45, width: 545, height: 458 },
  { left: 772.5, top: 505, width: 545, height: 199 }
]

const nameRich = {
  t: { fontFamily: FONT, fontSize: 29, color: '#000', lineHeight: 36 },
  s: { fontFamily: FONT, fontSize: 18, color: '#000', verticalAlign: 'bottom', padding: [0, 0, 0, 0] },
  u: { fontFamily: FONT, fontSize: 18, color: '#000', verticalAlign: 'top', padding: [2, 0, 0, 0] }
}

function intLabel (v) {
  return Number.isInteger(v) ? String(v) : ''
}

function makeXAxes (gridIndex, min, max, majorLen, minorLen, name, shift) {
  const base = {
    gridIndex, type: 'value', min, max, interval: 1, splitLine: { show: false },
    axisLine: { onZero: false, lineStyle: { color: '#000', width: 2 } },
    axisTick: { inside: true, length: majorLen, lineStyle: { color: '#000', width: 1.5 } },
    minorTick: { show: true, splitNumber: 10, length: minorLen, lineStyle: { color: '#000', width: 1.2 } },
    minorSplitLine: { show: false }
  }
  const bottom = Object.assign({}, base, {
    position: 'bottom',
    axisLabel: { show: !!name, inside: false, margin: 12, fontFamily: FONT, fontSize: 29, color: '#000', formatter: intLabel, hideOverlap: false },
    name: name || '',
    nameLocation: 'middle',
    nameGap: 42,
    nameTextStyle: { rich: nameRich, padding: [0, shift || 0, 0, 0] }
  })
  const top = Object.assign({}, base, { position: 'top', axisLabel: { show: false } })
  return [bottom, top]
}

// ticks at whole numbers do not start at min here, so the majors are listed
// and the minors get their own pair of axes on the same edges
function makeYAxes (gridIndex, min, max, minorStep, majors, name, capHeight) {
  const base = {
    gridIndex, type: 'value', min, max, splitLine: { show: false },
    axisLine: { onZero: false, lineStyle: { color: '#000', width: 2 } },
    axisTick: { inside: true, length: 12, customValues: majors, lineStyle: { color: '#000', width: 1.5 } },
    axisLabel: { show: false },
    minorTick: { show: false }
  }
  const left = Object.assign({}, base, {
    position: 'left',
    axisLabel: {
      show: true, margin: 6, fontFamily: FONT, fontSize: 29, color: '#000', lineHeight: capHeight,
      padding: [4, 0, 0, 0],
      customValues: majors, formatter: intLabel, verticalAlignMaxLabel: 'top', hideOverlap: false
    },
    name,
    nameLocation: 'middle',
    nameRotate: 90,
    nameGap: 41,
    nameTextStyle: { rich: nameRich }
  })
  const right = Object.assign({}, base, { position: 'right' })
  const minor = {
    gridIndex, type: 'value', min, max, interval: minorStep, splitLine: { show: false },
    axisLine: { show: false, onZero: false },
    axisTick: { inside: true, length: 6, lineStyle: { color: '#000', width: 1.2 } },
    axisLabel: { show: false },
    minorTick: { show: false }
  }
  return [left, right,
    Object.assign({}, minor, { position: 'left' }),
    Object.assign({}, minor, { position: 'right' })]
}

function zip (xs, ys) {
  return xs.map((x, i) => [x, ys[i]])
}

function onGrid (g) {
  return { xAxisIndex: g * 2, yAxisIndex: g * 4 }
}

function scatter (g, name, data, symbol, size, color, z) {
  return Object.assign({
    type: 'scatter', name, data, symbol, symbolSize: size, z: z || 5, silent: true,
    itemStyle: { color, opacity: 1 }
  }, onGrid(g))
}

function ring (g, name, points, color) {
  // one filled contour level, vertices in data units
  return Object.assign({
    type: 'custom', name, data: points, silent: true, z: 3, clip: true,
    renderItem (params, api) {
      if (params.dataIndex !== 0) return null
      return {
        type: 'polygon',
        shape: { points: points.map(p => api.coord(p)) },
        style: { fill: color, stroke: color, lineWidth: 0.5 }
      }
    }
  }, onGrid(g))
}

function line (g, name, data, color, width, z) {
  return Object.assign({
    type: 'line', name, data, symbol: 'none', silent: true, z: z || 4,
    lineStyle: { color, width }, itemStyle: { color }
  }, onGrid(g))
}

function hollow (g, name, data, symbol, size, color, border, z) {
  return Object.assign({
    type: 'scatter', name, data, symbol, symbolSize: size, z: z || 7, silent: true,
    itemStyle: { color: 'rgba(0,0,0,0)', borderColor: color, borderWidth: border, opacity: 1 }
  }, onGrid(g))
}

const series = [
  // top left
  scatter(0, 'dots', ksDots, 'circle', 3, '#000', 2),
  ring(0, 'c0', ksBlack, '#000'),
  ring(0, 'c1', ksMaroon, C.maroon),
  ring(0, 'c1b', ksMaroonTail, C.maroon),
  ring(0, 'c2', ksCrimson, C.crimson),
  ring(0, 'c3', ksMagenta, C.magenta),
  ring(0, 'c4a', ksPinkA, C.pink),
  ring(0, 'c4b', ksPinkB, C.pink),
  ring(0, 'c5a', ksWhiteA, C.white),
  ring(0, 'c5b', ksWhiteB, C.white),
  line(0, 'fit', zip(fitKsX, fitKsY), '#000', 1),
  scatter(0, 'Outer Regions Of Dwarfs', zip(dwarfX, dwarfY), 'circle', 6, C.dwarf),
  scatter(0, 'IC4687 Regions', zip(icX, icY), 'circle', 6, C.ic),
  scatter(0, 'High-z Integrated main-sequence', zip(msX, msY), 'circle', 6.5, C.ms),
  scatter(0, 'High-z Integrated starbursts', zip(burstX, burstY), 'diamond', 10, C.burst),
  scatter(0, 'Local U/LIRGs Nuc.', zip(lirgX, lirgY), 'rect', 10, C.lirg),
  hollow(0, 'NGC1614 Ring+Nucleus', zip(ngcX, ngcY), 'circle', 10, C.ngc, 1.4),
  hollow(0, 'NGC1614 limit', zip(ngcLimitX, ngcLimitY), 'circle', 10, C.ngc, 1.4),
  line(0, 'arrow', arrowTopPath, C.ngc, 1, 7),
  hollow(0, 'GMCs in M33', zip(gmcX, gmcY), 'triangle', 10, C.gmc, 1.3, 6),

  // bottom left
  scatter(1, 'dots', ksScatterDots, 'circle', 3, '#000', 2),
  line(1, 'zero', zip(zeroKsX, zeroY), '#777', 2, 1),
  ring(1, 'c0', ksLowBlack, '#000'),
  ring(1, 'c1', ksLowMaroon, C.maroon),
  ring(1, 'c1b', ksLowMaroonTail, C.maroon),
  ring(1, 'c2', ksLowCrimson, C.crimson),
  ring(1, 'c3', ksLowMagenta, C.magenta),
  ring(1, 'c4', ksLowPink, C.pink),
  ring(1, 'c5a', ksLowWhiteA, C.white),
  ring(1, 'c5b', ksLowWhiteB, C.white),
  scatter(1, 'Outer Regions Of Dwarfs', zip(dwarfX, dwarfScatter), 'circle', 6, C.dwarf),
  scatter(1, 'IC4687 Regions', zip(icX, icScatter), 'circle', 6, C.ic),
  scatter(1, 'High-z Integrated main-sequence', zip(msX, msScatter), 'circle', 6.5, C.ms),
  scatter(1, 'High-z Integrated starbursts', zip(burstX, burstScatter), 'diamond', 10, C.burst),
  scatter(1, 'Local U/LIRGs Nuc.', zip(lirgX, lirgScatter), 'rect', 10, C.lirg),
  hollow(1, 'NGC1614 Ring+Nucleus', zip(ngcX, ngcScatter), 'circle', 10, C.ngc, 1.4),
  hollow(1, 'NGC1614 limit', zip(ngcLimitX, ngcLimitScatter), 'circle', 10, C.ngc, 1.4),
  line(1, 'arrow', arrowLowPath, C.ngc, 1, 7),
  hollow(1, 'GMCs in M33', zip(gmcX, gmcScatter), 'triangle', 10, C.gmc, 1.3, 6),

  // top right
  scatter(2, 'dots', seDots, 'circle', 2.5, '#000', 2),
  ring(2, 'c0', seBlack, '#000'),
  ring(2, 'c1', seMaroon, C.maroon),
  ring(2, 'i0', seIslandA, C.maroon),
  ring(2, 'i1', seIslandB, C.crimson),
  ring(2, 'i2', seIslandC, C.maroon),
  ring(2, 'i3', seIslandD, C.maroon),
  ring(2, 'i4', seIslandE, C.maroon),
  ring(2, 'i5', seIslandF, C.maroon),
  ring(2, 'i6', seIslandG, C.maroon),
  ring(2, 'c2', seCrimson, C.crimson),
  ring(2, 'c3', seMagenta, C.magenta),
  ring(2, 'c4', sePink, C.pink),
  ring(2, 'c5a', seWhiteA, C.white),
  ring(2, 'c5b', seWhiteB, C.white),
  ring(2, 'c5c', seWhiteC, C.white),
  line(2, 'fit', zip(fitSeX, fitSeY), '#000', 1),
  scatter(2, 'Outer Regions Of Dwarfs', zip(seDwarfX, seDwarfY), 'circle', 6, C.dwarf),
  scatter(2, 'High-z Integrated main-sequence', zip(seMsX, seMsY), 'circle', 6.5, C.ms),
  scatter(2, 'High-z Integrated starbursts', zip(seBurstX, seBurstY), 'circle', 6.5, C.burst),

  // bottom right
  scatter(3, 'dots', seScatterDots, 'circle', 2.5, '#000', 2),
  line(3, 'zero', zip(zeroSeX, zeroY), '#777', 2, 1),
  ring(3, 'c0', seLowBlack, '#000'),
  ring(3, 'c1', seLowMaroon, C.maroon),
  ring(3, 'i0', seLowIslandA, C.maroon),
  ring(3, 'i1', seLowIslandB, C.maroon),
  ring(3, 'c2', seLowCrimson, C.crimson),
  ring(3, 'c3', seLowMagenta, C.magenta),
  ring(3, 'c4', seLowPink, C.pink),
  ring(3, 'c5a', seLowWhiteA, C.white),
  ring(3, 'c5b', seLowWhiteB, C.white),
  scatter(3, 'Outer Regions Of Dwarfs', zip(seDwarfX, seDwarfScatter), 'circle', 6, C.dwarf),
  scatter(3, 'High-z Integrated main-sequence', zip(seMsX, seMsScatter), 'circle', 6.5, C.ms),
  scatter(3, 'High-z Integrated starbursts', zip(seBurstX, seBurstScatter), 'circle', 6.5, C.burst)
]

// legend is drawn by hand, it has a different marker size on each row
function legendGraphics (labels, colors, marks, left, rows, markX, textX) {
  const out = []
  labels.forEach((label, i) => {
    const y = rows[i]
    out.push({
      type: 'text', left: i === 0 ? left : textX, top: y - 6.5, silent: true,
      style: { text: label, fontFamily: FONT, fontSize: 15, fill: colors[i] }
    })
    const mark = marks[i]
    const common = { silent: true, x: markX, y }
    if (mark === 'dot') {
      out.push(Object.assign({ type: 'circle', shape: { r: 2.6 }, style: { fill: colors[i] } }, common))
    } else if (mark === 'ring') {
      out.push(Object.assign({ type: 'circle', shape: { r: 4.8 }, style: { fill: 'none', stroke: colors[i], lineWidth: 1.4 } }, common))
    } else if (mark === 'square') {
      out.push(Object.assign({ type: 'rect', shape: { x: -5, y: -5, width: 10, height: 10 }, style: { fill: colors[i] } }, common))
    } else if (mark === 'diamond') {
      out.push(Object.assign({ type: 'polygon', shape: { points: [[0, -5], [5, 0], [0, 5], [-5, 0]] }, style: { fill: colors[i] } }, common))
    } else if (mark === 'triangle') {
      out.push(Object.assign({ type: 'polygon', shape: { points: [[0, -5], [5, 4.5], [-5, 4.5]] }, style: { fill: 'none', stroke: colors[i], lineWidth: 1.3 } }, common))
    }
  })
  return out
}

const graphic = legendGraphics(
  legendKs,
  [C.contour, C.dwarf, C.ngc, C.ic, C.lirg, C.ms, C.burst, C.gmc],
  [null, 'dot', 'ring', 'dot', 'square', 'dot', 'diamond', 'triangle'],
  100, [62.5, 76.5, 91, 106, 120, 135, 149, 164], 114, 133
).concat(legendGraphics(
  legendSe,
  [C.contour, C.dwarf, C.ms, C.burst],
  [null, 'dot', 'dot', 'diamond'],
  778, [62.5, 76.5, 92, 108], 800, 811
))

const xName1 = '{t|log(Σ}{s|gas}{t|[M}{s|sun}{t| pc}{u|-2}{t|])}'
const xName2 = '{t|log(Σ}{s|gas}{t|/t}{s|dyn}{t|[M}{s|sun}{t|/kpc}{u|2}{t|/yr])}'
const yName = '{t|Log(Σ}{s|SFR}{t|[M}{s|⊙}{t|/yr/kpc}{u|2}{t|])}'
const yScatterName = '{t|Scatter}'

const option = {
  animation: false,
  backgroundColor: '#fff',
  title: [
    { text: 'Kennicutt-Schmidt Law', left: 353, top: 0, textAlign: 'center', textStyle: { fontFamily: FONT, fontSize: 35.5, fontWeight: 'normal', color: '#000' } },
    { text: 'Silk-Elmegreen Relation', left: 1038, top: 0, textAlign: 'center', textStyle: { fontFamily: FONT, fontSize: 35.5, fontWeight: 'normal', color: '#000' } }
  ],
  grid: GRIDS,
  xAxis: [].concat(
    makeXAxes(0, -1, 4.7, 9, 4),
    makeXAxes(1, -1, 4.7, 7, 4, xName1),
    makeXAxes(2, -5, 5, 9, 4),
    makeXAxes(3, -5, 5, 7, 4, xName2, 38)
  ),
  yAxis: [].concat(
    makeYAxes(0, -5.2, 3, 0.2, yTicksTop, yName, 12),
    makeYAxes(1, -2.5, 2.02, 0.1, yTicksLow, yScatterName, 14),
    makeYAxes(2, -5.2, 3, 0.2, yTicksTop, yName, 12),
    makeYAxes(3, -2.5, 2.02, 0.1, yTicksLow, yScatterName, 14)
  ),
  graphic,
  series
}

const chart = echarts.init(document.getElementById('chart'), null, { renderer: 'canvas' })
chart.setOption(option)
</script>
</body>
</html>
